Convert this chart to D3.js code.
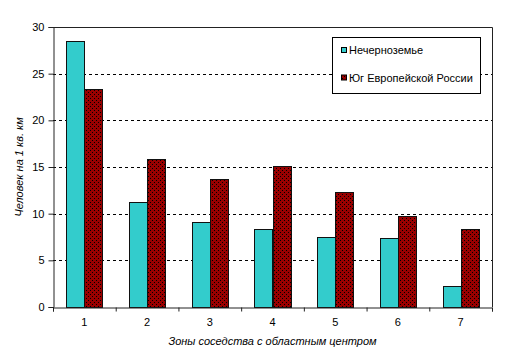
<!DOCTYPE html>
<html><head><meta charset="utf-8">
<script src="https://cdn.jsdelivr.net/npm/d3@7/dist/d3.min.js"></script>
<style>
html,body{margin:0;padding:0;background:#fff;}
svg{display:block;font-family:"Liberation Sans",Arial,sans-serif;}
</style></head>
<body><svg id="c" width="511" height="356"></svg>
<script>
const categories = ["1","2","3","4","5","6","7"];
const seriesNames = ["Нечерноземье","Юг Европейской России"];
const nonChernozem = [28.5, 11.2, 9.1, 8.4, 7.5, 7.4, 2.3];
const southRussia = [23.4, 15.9, 13.7, 15.1, 12.3, 9.7, 8.4];
const yTicks = [0, 5, 10, 15, 20, 25, 30];
const yTitle = "Человек на 1 кв. км";
const xTitle = "Зоны соседства с областным центром";

const svg = d3.select("#c");
const L = 53, R = 492, T = 27, B = 307;

const defs = svg.append("defs");
const pat = defs.append("pattern").attr("id","dots").attr("patternUnits","userSpaceOnUse")
  .attr("width",4).attr("height",4);
pat.append("rect").attr("width",4).attr("height",4).attr("fill","#990000");
pat.append("rect").attr("x",0).attr("y",0).attr("width",1).attr("height",1).attr("fill","#000");
pat.append("rect").attr("x",2).attr("y",2).attr("width",1).attr("height",1).attr("fill","#000");

const y = d3.scaleLinear().domain([0,30]).range([B,T]);
const x0 = d3.scaleBand().domain(categories).range([L,R]).paddingInner(0.425).paddingOuter(0.2125);
const x1 = d3.scaleBand().domain(seriesNames).range([0,x0.bandwidth()]);
const xb = d3.scaleLinear().domain([0,categories.length]).range([L,R]);

// gridlines
svg.append("g").selectAll("line").data(yTicks.filter(v=>v>0 && v<30)).join("line")
  .attr("x1",L).attr("x2",R).attr("y1",d=>Math.round(y(d))+0.5).attr("y2",d=>Math.round(y(d))+0.5)
  .attr("stroke","#000").attr("stroke-dasharray","3,3");

// plot border top/right
svg.append("path").attr("d",`M${L},${T+0.5}H${R+0.5}V${B}`).attr("fill","none").attr("stroke","#222");

const fills = ["#33CCCC","url(#dots)"];
const data = categories.map((c,i)=>({c, v:[nonChernozem[i], southRussia[i]]}));
const g = svg.append("g");
data.forEach(d=>{
  d.v.forEach((v,j)=>{
    const xx = Math.round(x0(d.c)+x1(seriesNames[j]));
    const w = Math.round(x1.bandwidth());
    g.append("rect").attr("x",xx+0.5).attr("y",Math.round(y(v))+0.5)
      .attr("width",w).attr("height",Math.round(B-y(v)))
      .attr("fill",fills[j]).attr("stroke","#111").attr("stroke-width",1);
  });
});

// y axis
const ya = svg.append("g").attr("transform",`translate(${L+0.5},0)`)
  .call(d3.axisLeft(y).tickValues(yTicks).tickSize(5).tickPadding(4));
ya.select(".domain").attr("stroke","#222");
ya.selectAll(".tick line").attr("stroke","#222");
ya.selectAll("text").attr("font-size","11px").attr("fill","#000").attr("font-family","Liberation Sans, Arial, sans-serif");

// x axis ticks at boundaries
const xa = svg.append("g").attr("transform",`translate(0,${B+0.5})`)
  .call(d3.axisBottom(xb).tickValues(d3.range(categories.length+1)).tickSize(4).tickFormat(""));
xa.select(".domain").attr("stroke","#222");
xa.selectAll(".tick line").attr("stroke","#222");
// x labels
const xl = svg.append("g").attr("transform",`translate(0,${B})`)
  .call(d3.axisBottom(x0).tickSize(0).tickPadding(11));
xl.select(".domain").remove();
xl.selectAll("text").attr("font-size","11px").attr("fill","#000").attr("font-family","Liberation Sans, Arial, sans-serif");

// titles
svg.append("text").attr("x",(L+R)/2).attr("y",345).attr("text-anchor","middle")
  .attr("font-size","11px").attr("font-style","italic").text(xTitle);
svg.append("text").attr("transform",`translate(23,${(T+B)/2}) rotate(-90)`).attr("text-anchor","middle")
  .attr("font-size","11px").attr("font-style","italic").text(yTitle);

// legend
const lg = svg.append("g");
lg.append("rect").attr("x",332.5).attr("y",37.5).attr("width",148).attr("height",56)
  .attr("fill","#fff").attr("stroke","#000");
seriesNames.forEach((s,i)=>{
  const cy = [50,77.5][i];
  lg.append("rect").attr("x",341.5).attr("y",cy-2.5).attr("width",5).attr("height",5)
    .attr("fill",fills[i]).attr("stroke","#000");
  lg.append("text").attr("x",349).attr("y",cy+4).attr("font-size","11px").text(s);
});
</script></body></html>
